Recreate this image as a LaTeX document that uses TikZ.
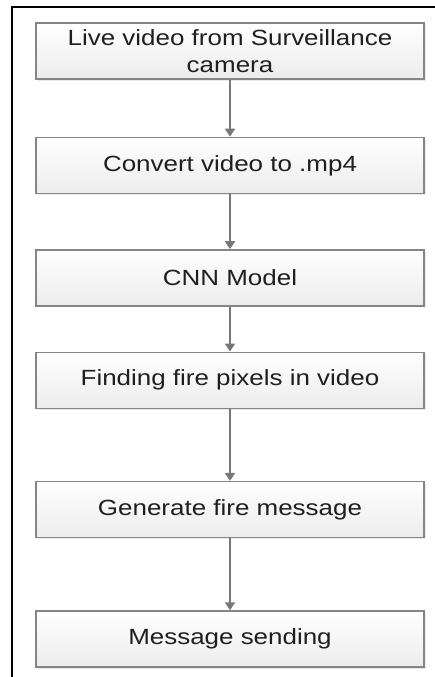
\documentclass[tikz,border=0pt]{standalone}
\usepackage{fontspec}
\newfontfamily\boxfont[FakeStretch=1.18]{Liberation Sans}
\usetikzlibrary{positioning, shadows, arrows.meta}

\definecolor{boxline}{HTML}{858585}
\definecolor{arrowgray}{HTML}{777777}
\definecolor{boxtext}{HTML}{1F1F1F}

\begin{document}
\begin{tikzpicture}[x=1pt, y=1pt,
    stage/.style={draw=boxline, line width=1.4pt, minimum width=388pt, minimum height=56pt,
        top color=white, bottom color=gray!15,
        drop shadow={opacity=0.18, shadow xshift=1.5pt, shadow yshift=-1.5pt},
        font={\boxfont\fontsize{22}{27}\selectfont}, text=boxtext, align=center, inner sep=0pt},
    flow/.style={-{Triangle[width=10pt, length=8pt]}, line width=1.8pt, draw=arrowgray}]
    \useasboundingbox (0,0) rectangle (435,-677);

    % frame
    \draw[line width=1.4pt] (435,-7) -- (12,-7) -- (12,-677);

    \node[stage] (live) at (230,-51) {Live video from Surveillance\\camera};
    \node[stage, below=57pt of live] (convert) {Convert video to .mp4};
    \node[stage, below=55pt of convert] (cnn) {CNN Model};
    \node[stage, below=45pt of cnn] (pixels) {Finding fire pixels in video};
    \node[stage, below=72pt of pixels] (message) {Generate fire message};
    \node[stage, below=72pt of message] (sending) {Message sending};

    \draw[flow] (live) -- (convert);
    \draw[flow] (convert) -- (cnn);
    \draw[flow] (cnn) -- (pixels);
    \draw[flow] (pixels) -- (message);
    \draw[flow] (message) -- (sending);

\end{tikzpicture}
\end{document}
